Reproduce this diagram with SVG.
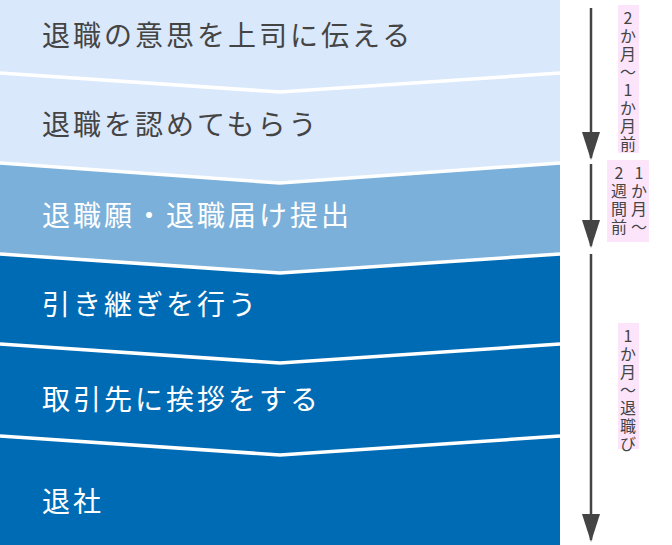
<svg xmlns="http://www.w3.org/2000/svg" width="672" height="545" viewBox="0 0 672 545">
<style>
.t{font-family:"Noto Sans CJK JP","Noto Sans",sans-serif;font-size:28px;letter-spacing:3px}
.d{fill:#444}.w{fill:#fff}
.sep{fill:none;stroke:#fff;stroke-width:3.5}
.v{font-family:"Noto Sans CJK JP","Noto Sans",sans-serif;font-size:16px;fill:#444;text-anchor:middle}
.lbl{fill:#fce4fb}
.ar{stroke:#444;stroke-width:2.5;fill:none}
</style>
<defs><marker id="ah" markerWidth="28" markerHeight="20" refX="26" refY="10" orient="auto" markerUnits="userSpaceOnUse" viewBox="0 0 28 20"><path d="M0,1L28,10L0,19z" fill="#444"/></marker></defs>
<g id="n1"><rect x="0" y="0" width="560" height="545" fill="#dae8fc"/><text class="t d" x="42" y="46">退職の意思を上司に伝える</text></g>
<g id="n2"><polygon points="0,73 280,92 560,73 560,545 0,545" fill="#dae8fc"/><text class="t d" x="42" y="135">退職を認めてもらう</text></g>
<g id="n3"><polygon points="0,163 280,183 560,163 560,545 0,545" fill="#7ab0d9"/><text class="t w" x="42" y="226">退職願・退職届け提出</text></g>
<g id="n4"><polygon points="0,254 280,273 560,254 560,545 0,545" fill="#006bb5"/><text class="t w" x="42" y="315">引き継ぎを行う</text></g>
<g id="n5"><polygon points="0,344 280,363 560,344 560,545 0,545" fill="#006bb5"/><text class="t w" x="42" y="410">取引先に挨拶をする</text></g>
<g id="n6"><polygon points="0,436 280,455 560,436 560,545 0,545" fill="#006bb5"/><text class="t w" x="42" y="512">退社</text></g>
<g id="connectors">
<polyline class="sep" points="0,73 280,92 560,73"/>
<polyline class="sep" points="0,163 280,183 560,163"/>
<polyline class="sep" points="0,254 280,273 560,254"/>
<polyline class="sep" points="0,344 280,363 560,344"/>
<polyline class="sep" points="0,436 280,455 560,436"/>
<line class="ar" x1="591" y1="8" x2="591" y2="158" marker-end="url(#ah)"/>
<line class="ar" x1="591" y1="164" x2="591" y2="246" marker-end="url(#ah)"/>
<line class="ar" x1="591" y1="254" x2="591" y2="540" marker-end="url(#ah)"/>
</g>
<g id="l1"><rect class="lbl" x="618" y="5" width="21" height="148"/>
<text class="v"><tspan x="628" y="24">2</tspan><tspan x="628" y="42">か</tspan><tspan x="628" y="60">月</tspan><tspan x="628" y="78">～</tspan><tspan x="628" y="96">1</tspan><tspan x="628" y="114">か</tspan><tspan x="628" y="132">月</tspan><tspan x="628" y="150">前</tspan></text></g>
<g id="l2"><rect class="lbl" x="607" y="160" width="42" height="82"/>
<text class="v"><tspan x="639" y="179">1</tspan><tspan x="639" y="197">か</tspan><tspan x="639" y="215">月</tspan><tspan x="639" y="233">～</tspan></text>
<text class="v"><tspan x="619" y="179">2</tspan><tspan x="619" y="197">週</tspan><tspan x="619" y="215">間</tspan><tspan x="619" y="233">前</tspan></text></g>
<g id="l3"><rect class="lbl" x="618" y="323" width="21" height="126"/>
<text class="v"><tspan x="628" y="342">1</tspan><tspan x="628" y="360">か</tspan><tspan x="628" y="378">月</tspan><tspan x="628" y="396">～</tspan><tspan x="628" y="414">退</tspan><tspan x="628" y="432">職</tspan><tspan x="628" y="450">び</tspan></text></g>
</svg>
